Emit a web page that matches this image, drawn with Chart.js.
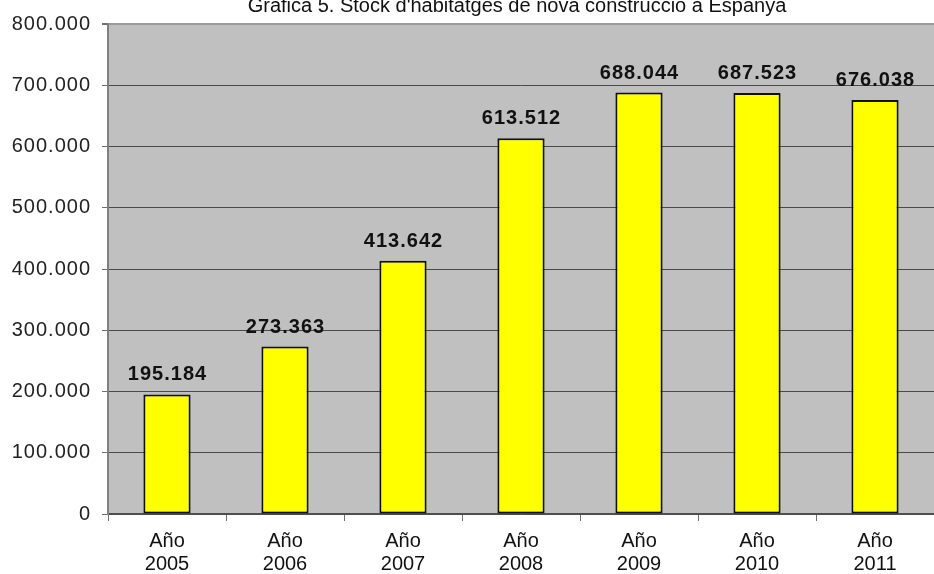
<!DOCTYPE html>
<html>
<head>
<meta charset="utf-8">
<script src="https://cdn.jsdelivr.net/npm/chart.js@4/dist/chart.umd.min.js"></script>
<style>
html,body{margin:0;padding:0;background:#fff;}
#c{display:block;}
</style>
</head>
<body>
<canvas id="c" width="934" height="574"></canvas>
<script>
const TITLE = "Gràfica 5. Stock d'habitatges de nova construcció a Espanya";
const categories = [["Año","2005"],["Año","2006"],["Año","2007"],["Año","2008"],["Año","2009"],["Año","2010"],["Año","2011"]];
const stockValues = [195184, 273363, 413642, 613512, 688044, 687523, 676038];
const yTicks = [0, 100000, 200000, 300000, 400000, 500000, 600000, 700000, 800000];

function fmt(v){
  return v.toString().replace(/\B(?=(\d{3})+(?!\d))/g, '.');
}
function spacing(ctx, s){ if ('letterSpacing' in ctx) ctx.letterSpacing = s; }

const bgPlugin = {
  id: 'bg',
  beforeDraw(chart){
    const {ctx, chartArea:a} = chart;
    ctx.save();
    ctx.fillStyle = '#c0c0c0';
    ctx.fillRect(a.left, a.top, a.right - a.left, a.bottom - a.top);
    ctx.restore();
    spacing(ctx, '1px');
  },
  afterDraw(chart){
    const {ctx} = chart;
    spacing(ctx, '0px');
    ctx.save();
    ctx.fillStyle = '#111';
    ctx.font = '20px "Liberation Sans", Arial, sans-serif';
    ctx.textAlign = 'center';
    ctx.textBaseline = 'alphabetic';
    ctx.fillText(TITLE, 517, 12);
    ctx.restore();
  }
};

const labelPlugin = {
  id: 'vals',
  afterDatasetsDraw(chart){
    const {ctx} = chart;
    const meta = chart.getDatasetMeta(0);
    ctx.save();
    spacing(ctx, '1px');
    ctx.fillStyle = '#111';
    ctx.font = 'bold 20px "Liberation Sans", Arial, sans-serif';
    ctx.textAlign = 'center';
    ctx.textBaseline = 'alphabetic';
    meta.data.forEach((bar, i) => {
      ctx.fillText(fmt(chart.data.datasets[0].data[i]), bar.x + 0.5, bar.y - 14);
    });
    ctx.restore();
    spacing(ctx, '0px');
  }
};

new Chart(document.getElementById('c'), {
  type: 'bar',
  data: {
    labels: categories,
    datasets: [{
      data: stockValues,
      backgroundColor: '#ffff00',
      borderColor: '#111',
      borderWidth: 2,
      borderSkipped: false,
      categoryPercentage: 1.0,
      barPercentage: 0.4
    }]
  },
  options: {
    responsive: false,
    devicePixelRatio: 1,
    animation: false,
    layout: { padding: { top: 24, right: 0, left: 0, bottom: 0 } },
    plugins: { legend: { display: false }, title: { display: false }, tooltip: { enabled: false } },
    scales: {
      x: {
        offset: true,
        grid: { offset: true, drawOnChartArea: false, drawTicks: true, tickLength: 7, color: '#707070', lineWidth: 1 },
        border: { display: true, color: '#505050', width: 1.5 },
        ticks: {
          z: 1,
          color: '#111',
          padding: 9,
          maxRotation: 0,
          autoSkip: false,
          font: { family: '"Liberation Sans", Arial, sans-serif', size: 20, lineHeight: 1.15 }
        },
        afterFit(s){ s.height = 60; }
      },
      y: {
        min: 0,
        max: 800000,
        afterBuildTicks(s){ s.ticks = yTicks.map(v => ({ value: v })); },
        grid: {
          drawTicks: true,
          tickLength: 6,
          color: ctx => (ctx.tick && ctx.tick.value === 800000) ? '#9a9a9a' : '#4a4a4a',
          lineWidth: ctx => (ctx.tick && ctx.tick.value === 800000) ? 2 : 1,
          tickColor: '#707070'
        },
        border: { display: true, color: '#808080', width: 2 },
        ticks: {
          color: '#222',
          padding: 11,
          font: { family: '"Liberation Sans", Arial, sans-serif', size: 20 },
          callback: v => fmt(v)
        },
        afterFit(s){ s.width = 108; }
      }
    }
  },
  plugins: [bgPlugin, labelPlugin]
});
</script>
</body>
</html>
